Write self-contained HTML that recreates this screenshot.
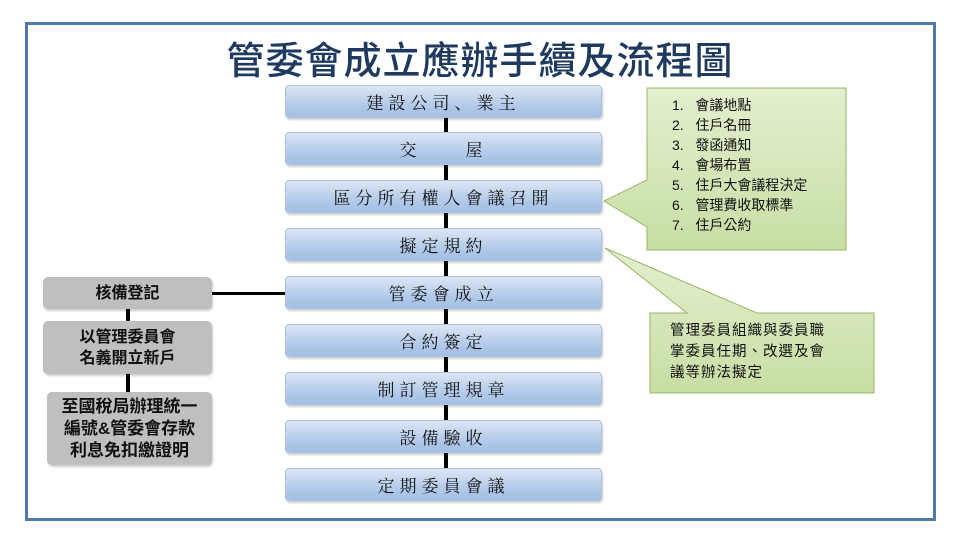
<!DOCTYPE html>
<html><head><meta charset="utf-8"><style>
body{margin:0;width:960px;height:540px;background:#fff;position:relative;overflow:hidden;font-family:"Liberation Sans","Noto Sans CJK TC",sans-serif}
.frame{position:absolute;left:25px;top:22px;width:905px;height:493px;border:3px solid #4f7aa8}
.t{position:absolute;left:0;width:960px;top:30px;text-align:center;font-size:38px;color:#1f3a5f;font-weight:500;letter-spacing:1px}
.b{position:absolute;left:285px;width:317px;height:33px;border:1px solid #a9c0de;border-radius:4px;background:linear-gradient(#dbe6f4,#b4cbe9 60%,#a3bfe5);box-sizing:border-box;text-align:center;line-height:31px;font-size:17px;font-family:"Noto Serif CJK SC",serif;letter-spacing:5px;color:#111;box-shadow:1px 2px 2px rgba(0,0,0,.2)}
.g{position:absolute;background:#bfbfbf;border-radius:5px;text-align:center;font-weight:bold;font-size:16px;color:#111;box-sizing:border-box;display:flex;align-items:center;justify-content:center;line-height:21px;box-shadow:1px 2px 2px rgba(0,0,0,.2)}
.v{position:absolute;width:4px;background:#000}
.c{position:absolute;font-size:14px;color:#111;line-height:20px}
</style></head><body>
<div class="frame"></div>
<div class="t">管委會成立應辦手續及流程圖</div>
<div class="v" style="left:444px;top:118px;height:360px"></div>
<div style="position:absolute;left:212px;top:292px;width:75px;height:3px;background:#000"></div>
<div class="v" style="left:126px;top:309px;height:90px"></div>
<div class="b" style="top:85px">建設公司、業主</div>
<div class="b" style="top:132px">交&emsp;&emsp;屋</div>
<div class="b" style="top:180px">區分所有權人會議召開</div>
<div class="b" style="top:228px">擬定規約</div>
<div class="b" style="top:276px">管委會成立</div>
<div class="b" style="top:324px">合約簽定</div>
<div class="b" style="top:372px">制訂管理規章</div>
<div class="b" style="top:420px">設備驗收</div>
<div class="b" style="top:468px">定期委員會議</div>
<div class="g" style="left:43px;top:277px;width:169px;height:32px">核備登記</div>
<div class="g" style="left:43px;top:321px;width:169px;height:53px">以管理委員會<br>名義開立新戶</div>
<div class="g" style="left:47px;top:392px;width:165px;height:73px;font-size:17px;line-height:22px">至國稅局辦理統一<br>編號&amp;管委會存款<br>利息免扣繳證明</div>
<svg style="position:absolute;left:0;top:0" width="960" height="540">
<defs><linearGradient id="gr" x1="0" y1="0" x2="0" y2="1"><stop offset="0" stop-color="#e3efcf"/><stop offset="1" stop-color="#c7dea3"/></linearGradient></defs>
<path d="M647 88 H846 V250 H647 V227 L604 201 L647 180 Z" fill="url(#gr)" stroke="#98b565" stroke-width="1"/>
<path d="M650 313 H687 L605 248 L757 313 H874 V393 H650 Z" fill="url(#gr)" stroke="#98b565" stroke-width="1"/>
</svg>
<div class="c" style="left:672px;top:95px;white-space:pre">1.   會議地點
2.   住戶名冊
3.   發函通知
4.   會場布置
5.   住戶大會議程決定
6.   管理費收取標準
7.   住戶公約</div>
<div class="c" style="left:670px;top:321px;font-size:14.5px;line-height:21px;letter-spacing:1px">管理委員組織與委員職<br>掌委員任期、改選及會<br>議等辦法擬定</div>
</body></html>
